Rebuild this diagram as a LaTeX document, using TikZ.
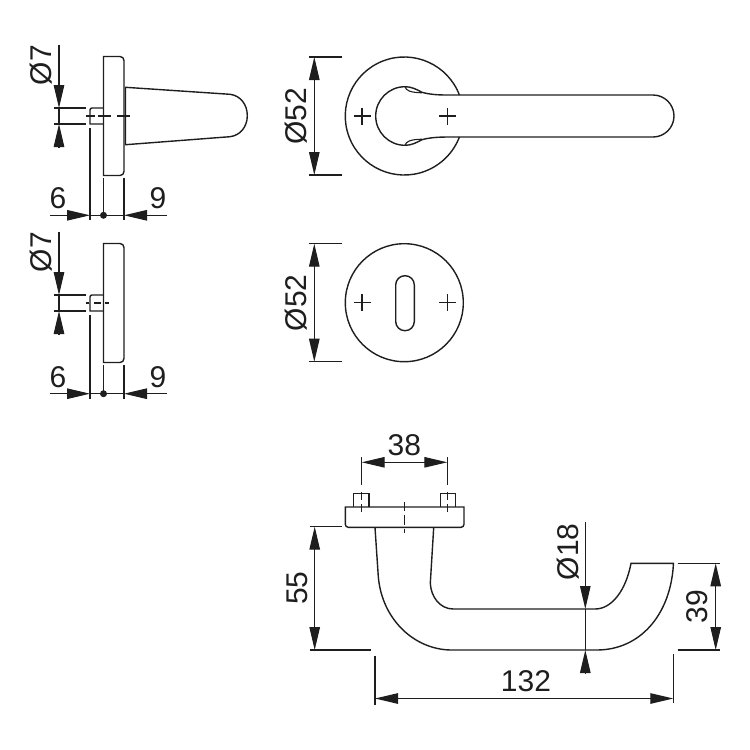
\documentclass[tikz,border=0pt]{standalone}
\usepackage{fontspec}
\setmainfont{Liberation Sans}
\usetikzlibrary{arrows.meta}
\definecolor{ink}{HTML}{1E1E1E}
\tikzset{
    part/.style={draw=ink,line width=1.4pt},
    thin line/.style={draw=ink,line width=1.1pt},
    tip/.style={thin line,-{Triangle[length=23pt,width=10.5pt,fill=ink]}},
    tips/.style={thin line,{Triangle[length=23pt,width=10.5pt,fill=ink]}-{Triangle[length=23pt,width=10.5pt,fill=ink]}},
    size/.style={text=ink,font=\fontsize{30}{32}\selectfont,inner sep=0pt},
    upright/.style={size,rotate=90},
}

\begin{document}
\begin{tikzpicture}[x=1pt,y=-1pt]
    \useasboundingbox (0,0) rectangle (750,750);

    % side views
    \foreach \cy/\dy in {116/215.3,303/393.7} {
        \draw[part] (103.5,\cy-59.5) [rounded corners=4pt] -- (124,\cy-59.5) -- (124,\cy+59.5) [sharp corners] -- (103.5,\cy+59.5) -- cycle;
        \draw[part] (103.5,\cy-8) [rounded corners=2pt] -- (90,\cy-8) [sharp corners] -- (90,\cy+8) -- (103.5,\cy+8);
        \draw[thin line] (54,\cy-8) -- (85.7,\cy-8);
        \draw[thin line] (54,\cy+8) -- (85.7,\cy+8);
        \draw[tip] (59,\cy-71.5) -- (59,\cy-8);
        \draw[tip] (59,\cy+31) -- (59,\cy+8);
        \draw[thin line] (59,\cy-8) -- (59,\cy+8);
        \draw[thin line] (90,\cy+12) -- (90,\dy+5);
        \draw[thin line] (103.5,\cy+62) -- (103.5,\dy);
        \draw[thin line] (124,\cy+62) -- (124,\dy+5);
        \draw[tip] (50,\dy) -- (90,\dy);
        \draw[tip] (167,\dy) -- (124,\dy);
        \draw[thin line] (90,\dy) -- (124,\dy);
        \fill[ink] (103.5,\dy) circle (3.5pt);
        \node[size] (six\cy) at (58,\dy-17) {6};
        \node[size] (nine\cy) at (158,\dy-17) {9};
        \node[upright] (pin\cy) at (41,\cy-51) {Ø7};
    }
    \draw[part] (125.5,87.3) -- (230,94.3) .. controls (240,95.5) and (247.3,104) .. (247.3,115.7)
        .. controls (247.3,127) and (240,135.5) .. (230,136.7) -- (125.5,144.7) -- cycle;
    \draw[thin line] (85.7,116) -- (95,116) (98,116) -- (111,116) (116.7,116) -- (130,116);
    \draw[thin line] (85.7,303) -- (89,303) (94,303) -- (101,303) (105,303) -- (109,303);

    % front view, lever
    \draw[part] (459.4,95) arc[start angle=20.85,end angle=339.15,radius=59pt];
    \draw[part] (405,86.7) arc[start angle=90,end angle=270,radius=29.3pt];
    \draw[part] (405,86.7) .. controls (411,86.7) and (416,89) .. (422,92.3) .. controls (430,94.5) and (438,95) .. (447,95)
        -- (653,95) arc[start angle=90,end angle=-90,radius=21pt] -- (450,137)
        .. controls (438,137) and (430,137.5) .. (422,139.7) .. controls (416,143) and (411,145.3) .. (405,145.3);
    \draw[thin line] (405,86.7) .. controls (406,90.5) and (410,92.5) .. (422,92.8);
    \draw[thin line] (405,145.3) .. controls (406,141.5) and (410,139.5) .. (422,139.2);

    % front view, key plate
    \draw[part] (404.3,302.7) circle (59pt);
    \draw[part,rounded corners=9.2pt] (395.7,275.7) rectangle (414.3,330.7);

    \foreach \cy in {116,302.7} {
        \draw[thin line] (353.5,\cy) -- (370.5,\cy) (362,\cy-8.5) -- (362,\cy+8.5);
        \draw[thin line] (439,\cy) -- (456,\cy) (447.5,\cy-8.5) -- (447.5,\cy+8.5);
        \draw[thin line] (309.3,\cy-59) -- (341.7,\cy-59);
        \draw[thin line] (309.3,\cy+59) -- (341.7,\cy+59);
        \draw[tips] (314.3,\cy-59) -- (314.3,\cy+59);
        \node[upright] (rose\cy) at (295.7,\cy) {Ø52};
    }

    % top view
    \draw[part,rounded corners=3pt] (345.3,507) [sharp corners] -- (464,507) [rounded corners=3pt] -- (464,527.3) -- (345.3,527.3) [sharp corners] -- cycle;
    \draw[part] (353.7,507) -- (353.7,493.3) -- (369,493.3) -- (369,507);
    \draw[part] (440.7,507) -- (440.7,493.3) -- (455.7,493.3) -- (455.7,507);
    \foreach \px in {361.7,447.3} {
        \draw[thin line] (\px,457) -- (\px,485);
        \draw[thin line] (\px,491.5) -- (\px,500) (\px,504) -- (\px,512);
    }
    \draw[thin line] (404.3,502.3) -- (404.3,511) (404.3,514.5) -- (404.3,525) (404.3,528.5) -- (404.3,533.3);
    \draw[tips] (361.7,462.3) -- (447.3,462.3);
    \node[size] (fix) at (404.3,445) {38};

    % handle
    \draw[part] (375,527.5) -- (378.3,576.7) .. controls (382,620) and (415,650) .. (451.7,650) -- (596.7,650)
        .. controls (640,650) and (670,615) .. (673.3,566) -- (673.3,563.3) -- (631,563.3)
        .. controls (626,590) and (612,609) .. (595,609) -- (453.3,609) .. controls (440,609) and (431,597) .. (430.3,583.3)
        -- (433.7,527.5);

    % handle sizes
    \draw[thin line] (310,526.7) -- (341.7,526.7);
    \draw[thin line] (310,650) -- (371,650);
    \draw[tips] (314.7,526.7) -- (314.7,650);
    \node[upright] (drop) at (297.3,588) {55};

    \draw[tip] (585.3,521.7) -- (585.3,609);
    \draw[tip] (585.3,673) -- (585.3,650);
    \draw[thin line] (585.3,609) -- (585.3,650);
    \node[upright] (grip) at (568,551.7) {Ø18};

    \draw[thin line] (677.7,563.3) -- (720,563.3);
    \draw[thin line] (677.7,650) -- (720,650);
    \draw[tips] (715.7,563.3) -- (715.7,650);
    \node[upright] (nose) at (696.7,606.7) {39};

    \draw[thin line] (375,655.7) -- (375,705);
    \draw[thin line] (673.3,654) -- (673.3,703);
    \draw[tips] (375,698.5) -- (673.3,698.5);
    \node[size] (length) at (526,680.7) {132};
\end{tikzpicture}
\end{document}
